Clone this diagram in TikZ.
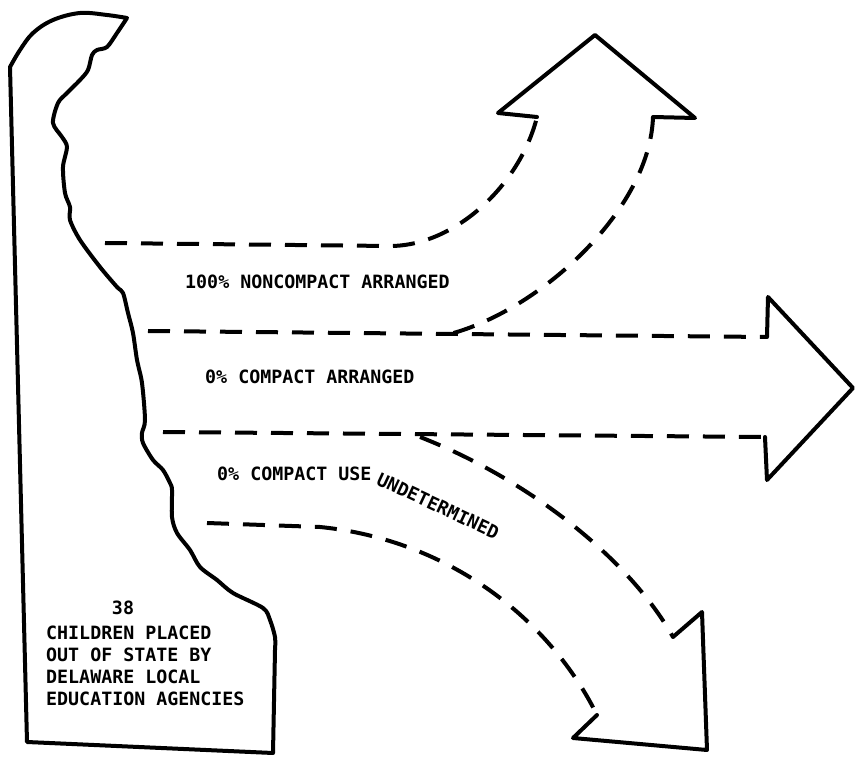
\documentclass[tikz,border=0pt]{standalone}
\usepackage{fontspec}
\setmonofont{DejaVu Sans Mono}
\begin{document}
\begin{tikzpicture}[x=1pt, y=-1pt,
        outline/.style={line width=4pt, line join=round, line cap=round},
        band/.style={line width=4pt, dash pattern=on 22pt off 14pt},
        label/.style={font=\fontsize{18.3}{22}\ttfamily\bfseries, inner sep=0pt}]
    \useasboundingbox (0,0) rectangle (855,762);
    % state outline
    \draw[outline] (27,742) -- (10,67)
        -- plot[smooth, tension=0.6] coordinates {(10,67) (20,50) (33,33) (53,20) (80,13) (107,15) (127,18)}
        -- plot[smooth, tension=0.5] coordinates {(127,18) (117,33) (107,47) (97,50) (92,55) (88,70) (80,80)
            (67,93) (58,103) (53,123) (62,137) (67,147) (63,167) (65,193) (70,207) (70,220) (80,240)
            (100,267) (117,287) (123,293) (128,313) (133,333) (137,360) (142,383) (145,420) (142,433)
            (143,443) (153,460) (163,470) (170,483) (172,490) (172,517) (177,533) (190,550) (200,567)
            (217,580) (233,593) (263,608) (270,620) (275,637) (275,650)}
        -- (273,753) -- cycle;
    % arrow up
    \draw[band] (105,243) -- (390,246) .. controls (455,246) and (520,185) .. (537,117);
    \draw[band] (653,117) .. controls (650,210) and (540,310) .. (450,334);
    \draw[outline] (537,117) -- (498,113) -- (595,35) -- (695,118) -- (653,117);
    % arrow right
    \draw[band] (148,331) -- (767,337);
    \draw[band] (163,432) -- (765,437);
    \draw[outline] (767,337) -- (768,297) -- (853,388) -- (767,480) -- (765,437);
    % arrow down
    \draw[band] (420,437) .. controls (530,480) and (630,560) .. (673,637);
    \draw[band] (207,523) -- (320,527) .. controls (450,540) and (550,620) .. (597,715);
    \draw[outline] (673,637) -- (702,612) -- (707,750) -- (573,738) -- (597,715);
    % labels
    \node[label, anchor=west] (noncompact) at (185,282) {100\% NONCOMPACT ARRANGED};
    \node[label, anchor=west] (compact) at (205,377) {0\% COMPACT ARRANGED};
    \node[label, anchor=west] (use) at (217,474) {0\% COMPACT USE};
    \node[label, anchor=west, rotate=-25] (undetermined) at (378,478) {UNDETERMINED};
    \node[label] (count) at (123,608) {38};
    \node[label, anchor=north west, align=left] (children) at (46,626)
        {CHILDREN PLACED\\OUT OF STATE BY\\DELAWARE LOCAL\\EDUCATION AGENCIES};
\end{tikzpicture}
\end{document}
